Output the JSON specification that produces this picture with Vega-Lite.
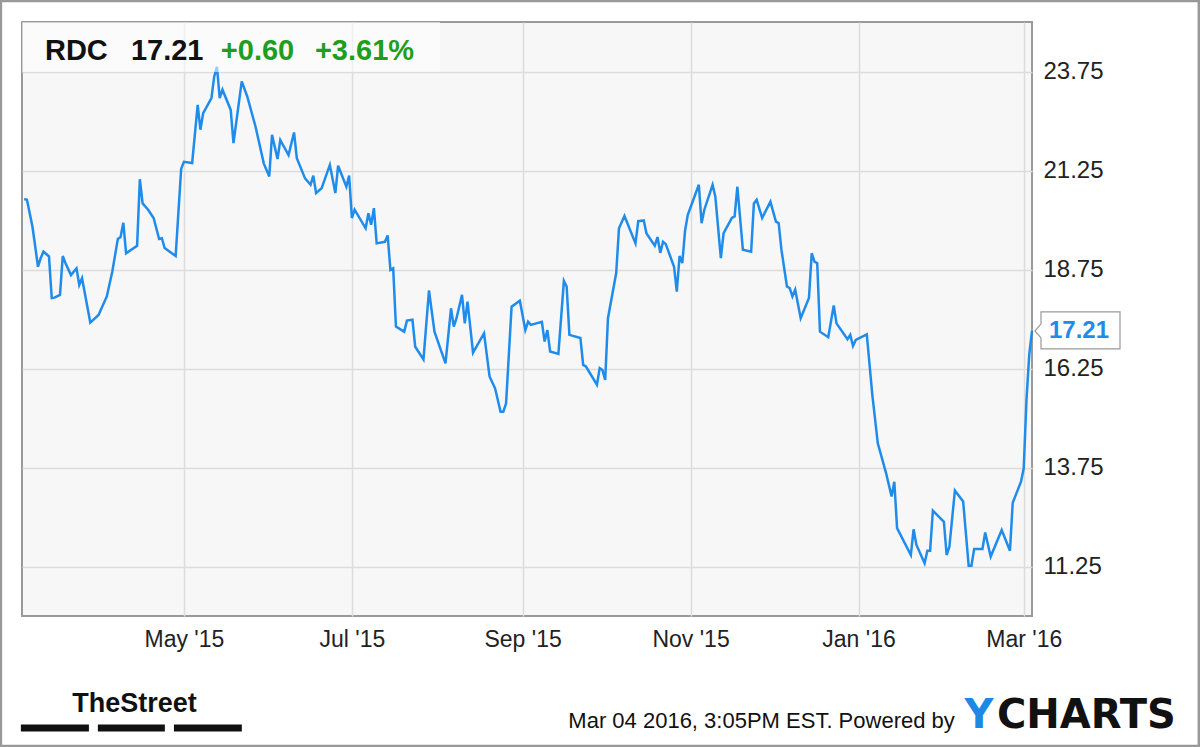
{
  "$schema": "https://vega.github.io/schema/vega-lite/v6.json",
  "width": 1010,
  "height": 594,
  "autosize": {"type": "none"},
  "padding": {"left": 22, "top": 22, "right": 168, "bottom": 131},
  "background": "white",
  "config": {
    "view": {"fill": "#f7f7f7", "stroke": "#999999", "strokeWidth": 2},
    "font": "Liberation Sans"
  },
  "datasets": {
    "prices": [
      {"date": "2015-03-04", "price": 20.54},
      {"date": "2015-03-05", "price": 20.52},
      {"date": "2015-03-07", "price": 19.84},
      {"date": "2015-03-08", "price": 19.34},
      {"date": "2015-03-09", "price": 18.83},
      {"date": "2015-03-10", "price": 19.05},
      {"date": "2015-03-11", "price": 19.21},
      {"date": "2015-03-13", "price": 19.09},
      {"date": "2015-03-14", "price": 18.04},
      {"date": "2015-03-15", "price": 18.05},
      {"date": "2015-03-17", "price": 18.12},
      {"date": "2015-03-18", "price": 19.10},
      {"date": "2015-03-19", "price": 18.92},
      {"date": "2015-03-21", "price": 18.62},
      {"date": "2015-03-23", "price": 18.79},
      {"date": "2015-03-24", "price": 18.37},
      {"date": "2015-03-25", "price": 18.54},
      {"date": "2015-03-28", "price": 17.42},
      {"date": "2015-03-31", "price": 17.61},
      {"date": "2015-04-03", "price": 18.08},
      {"date": "2015-04-05", "price": 18.71},
      {"date": "2015-04-07", "price": 19.53},
      {"date": "2015-04-08", "price": 19.58},
      {"date": "2015-04-09", "price": 19.94},
      {"date": "2015-04-10", "price": 19.17},
      {"date": "2015-04-14", "price": 19.36},
      {"date": "2015-04-15", "price": 21.04},
      {"date": "2015-04-16", "price": 20.43},
      {"date": "2015-04-18", "price": 20.27},
      {"date": "2015-04-20", "price": 20.06},
      {"date": "2015-04-22", "price": 19.53},
      {"date": "2015-04-23", "price": 19.55},
      {"date": "2015-04-24", "price": 19.30},
      {"date": "2015-04-28", "price": 19.10},
      {"date": "2015-04-30", "price": 21.30},
      {"date": "2015-05-01", "price": 21.48},
      {"date": "2015-05-04", "price": 21.45},
      {"date": "2015-05-06", "price": 22.92},
      {"date": "2015-05-07", "price": 22.29},
      {"date": "2015-05-08", "price": 22.71},
      {"date": "2015-05-11", "price": 23.09},
      {"date": "2015-05-12", "price": 23.63},
      {"date": "2015-05-13", "price": 23.88},
      {"date": "2015-05-14", "price": 23.09},
      {"date": "2015-05-15", "price": 23.30},
      {"date": "2015-05-18", "price": 22.79},
      {"date": "2015-05-19", "price": 21.95},
      {"date": "2015-05-22", "price": 23.51},
      {"date": "2015-05-24", "price": 23.13},
      {"date": "2015-05-27", "price": 22.37},
      {"date": "2015-05-30", "price": 21.44},
      {"date": "2015-06-01", "price": 21.11},
      {"date": "2015-06-02", "price": 22.16},
      {"date": "2015-06-04", "price": 21.55},
      {"date": "2015-06-05", "price": 22.03},
      {"date": "2015-06-08", "price": 21.65},
      {"date": "2015-06-10", "price": 22.22},
      {"date": "2015-06-11", "price": 21.57},
      {"date": "2015-06-14", "price": 21.06},
      {"date": "2015-06-16", "price": 20.90},
      {"date": "2015-06-17", "price": 21.13},
      {"date": "2015-06-18", "price": 20.69},
      {"date": "2015-06-20", "price": 20.81},
      {"date": "2015-06-23", "price": 21.40},
      {"date": "2015-06-25", "price": 20.69},
      {"date": "2015-06-26", "price": 21.38},
      {"date": "2015-06-29", "price": 20.85},
      {"date": "2015-06-30", "price": 21.13},
      {"date": "2015-07-01", "price": 20.06},
      {"date": "2015-07-02", "price": 20.27},
      {"date": "2015-07-06", "price": 19.80},
      {"date": "2015-07-07", "price": 20.18},
      {"date": "2015-07-08", "price": 19.89},
      {"date": "2015-07-09", "price": 20.31},
      {"date": "2015-07-10", "price": 19.42},
      {"date": "2015-07-13", "price": 19.46},
      {"date": "2015-07-14", "price": 19.62},
      {"date": "2015-07-15", "price": 18.75},
      {"date": "2015-07-16", "price": 18.79},
      {"date": "2015-07-17", "price": 17.32},
      {"date": "2015-07-20", "price": 17.19},
      {"date": "2015-07-21", "price": 17.47},
      {"date": "2015-07-23", "price": 17.49},
      {"date": "2015-07-24", "price": 16.81},
      {"date": "2015-07-27", "price": 16.49},
      {"date": "2015-07-29", "price": 18.23},
      {"date": "2015-07-31", "price": 17.19},
      {"date": "2015-08-04", "price": 16.39},
      {"date": "2015-08-06", "price": 17.78},
      {"date": "2015-08-07", "price": 17.32},
      {"date": "2015-08-08", "price": 17.53},
      {"date": "2015-08-10", "price": 18.12},
      {"date": "2015-08-11", "price": 17.40},
      {"date": "2015-08-12", "price": 17.95},
      {"date": "2015-08-14", "price": 16.66},
      {"date": "2015-08-18", "price": 17.15},
      {"date": "2015-08-20", "price": 16.06},
      {"date": "2015-08-22", "price": 15.76},
      {"date": "2015-08-24", "price": 15.17},
      {"date": "2015-08-25", "price": 15.17},
      {"date": "2015-08-26", "price": 15.38},
      {"date": "2015-08-28", "price": 17.82},
      {"date": "2015-08-31", "price": 17.97},
      {"date": "2015-09-02", "price": 17.23},
      {"date": "2015-09-03", "price": 17.44},
      {"date": "2015-09-04", "price": 17.36},
      {"date": "2015-09-08", "price": 17.44},
      {"date": "2015-09-09", "price": 16.94},
      {"date": "2015-09-10", "price": 17.23},
      {"date": "2015-09-11", "price": 16.69},
      {"date": "2015-09-14", "price": 16.63},
      {"date": "2015-09-16", "price": 18.47},
      {"date": "2015-09-17", "price": 18.33},
      {"date": "2015-09-18", "price": 17.11},
      {"date": "2015-09-22", "price": 17.03},
      {"date": "2015-09-23", "price": 16.35},
      {"date": "2015-09-24", "price": 16.31},
      {"date": "2015-09-28", "price": 15.85},
      {"date": "2015-09-29", "price": 16.27},
      {"date": "2015-09-30", "price": 16.22},
      {"date": "2015-10-01", "price": 15.97},
      {"date": "2015-10-02", "price": 17.53},
      {"date": "2015-10-05", "price": 18.67},
      {"date": "2015-10-06", "price": 19.80},
      {"date": "2015-10-08", "price": 20.11},
      {"date": "2015-10-12", "price": 19.42},
      {"date": "2015-10-13", "price": 19.98},
      {"date": "2015-10-15", "price": 20.00},
      {"date": "2015-10-16", "price": 19.67},
      {"date": "2015-10-19", "price": 19.36},
      {"date": "2015-10-20", "price": 19.58},
      {"date": "2015-10-21", "price": 19.18},
      {"date": "2015-10-22", "price": 19.46},
      {"date": "2015-10-23", "price": 19.40},
      {"date": "2015-10-26", "price": 18.83},
      {"date": "2015-10-27", "price": 18.20},
      {"date": "2015-10-28", "price": 19.10},
      {"date": "2015-10-29", "price": 18.92},
      {"date": "2015-10-30", "price": 19.74},
      {"date": "2015-10-31", "price": 20.14},
      {"date": "2015-11-04", "price": 20.90},
      {"date": "2015-11-05", "price": 19.93},
      {"date": "2015-11-06", "price": 20.27},
      {"date": "2015-11-09", "price": 20.90},
      {"date": "2015-11-10", "price": 20.60},
      {"date": "2015-11-12", "price": 19.05},
      {"date": "2015-11-13", "price": 19.68},
      {"date": "2015-11-16", "price": 20.06},
      {"date": "2015-11-17", "price": 20.10},
      {"date": "2015-11-18", "price": 20.85},
      {"date": "2015-11-20", "price": 19.26},
      {"date": "2015-11-23", "price": 19.21},
      {"date": "2015-11-24", "price": 20.43},
      {"date": "2015-11-25", "price": 20.52},
      {"date": "2015-11-27", "price": 20.06},
      {"date": "2015-11-30", "price": 20.47},
      {"date": "2015-12-02", "price": 19.97},
      {"date": "2015-12-03", "price": 19.93},
      {"date": "2015-12-04", "price": 19.26},
      {"date": "2015-12-06", "price": 18.33},
      {"date": "2015-12-07", "price": 18.29},
      {"date": "2015-12-08", "price": 18.08},
      {"date": "2015-12-09", "price": 18.25},
      {"date": "2015-12-11", "price": 17.53},
      {"date": "2015-12-14", "price": 18.04},
      {"date": "2015-12-15", "price": 19.17},
      {"date": "2015-12-16", "price": 18.96},
      {"date": "2015-12-17", "price": 18.92},
      {"date": "2015-12-18", "price": 17.19},
      {"date": "2015-12-21", "price": 17.05},
      {"date": "2015-12-23", "price": 17.85},
      {"date": "2015-12-24", "price": 17.40},
      {"date": "2015-12-28", "price": 17.00},
      {"date": "2015-12-29", "price": 17.11},
      {"date": "2015-12-30", "price": 16.83},
      {"date": "2015-12-31", "price": 16.98},
      {"date": "2016-01-04", "price": 17.12},
      {"date": "2016-01-06", "price": 15.60},
      {"date": "2016-01-08", "price": 14.37},
      {"date": "2016-01-11", "price": 13.62},
      {"date": "2016-01-13", "price": 13.03},
      {"date": "2016-01-14", "price": 13.40},
      {"date": "2016-01-15", "price": 12.23},
      {"date": "2016-01-20", "price": 11.55},
      {"date": "2016-01-21", "price": 12.20},
      {"date": "2016-01-22", "price": 11.81},
      {"date": "2016-01-25", "price": 11.34},
      {"date": "2016-01-26", "price": 11.66},
      {"date": "2016-01-27", "price": 11.66},
      {"date": "2016-01-28", "price": 12.67},
      {"date": "2016-02-01", "price": 12.39},
      {"date": "2016-02-02", "price": 11.55},
      {"date": "2016-02-03", "price": 11.76},
      {"date": "2016-02-05", "price": 13.18},
      {"date": "2016-02-08", "price": 12.90},
      {"date": "2016-02-10", "price": 11.28},
      {"date": "2016-02-11", "price": 11.28},
      {"date": "2016-02-12", "price": 11.70},
      {"date": "2016-02-15", "price": 11.70},
      {"date": "2016-02-16", "price": 12.12},
      {"date": "2016-02-18", "price": 11.51},
      {"date": "2016-02-22", "price": 12.18},
      {"date": "2016-02-25", "price": 11.66},
      {"date": "2016-02-26", "price": 12.87},
      {"date": "2016-02-29", "price": 13.40},
      {"date": "2016-03-01", "price": 13.74},
      {"date": "2016-03-02", "price": 15.47},
      {"date": "2016-03-03", "price": 16.61},
      {"date": "2016-03-04", "price": 17.21}
    ]
  },
  "layer": [
    {
      "data": {"name": "prices"},
      "mark": {"type": "line", "color": "#1f8ceb", "strokeWidth": 2.5},
      "encoding": {
        "x": {
          "field": "date",
          "type": "temporal",
          "title": null,
          "scale": {
            "type": "utc",
            "domain": [
              {"year": 2015, "month": 3, "date": 3, "hours": 4, "minutes": 48, "utc": true},
              {"year": 2016, "month": 3, "date": 4, "utc": true}
            ]
          },
          "axis": {
            "title": null,
            "values": [
              {"year": 2015, "month": 5, "date": 1, "utc": true},
              {"year": 2015, "month": 7, "date": 1, "utc": true},
              {"year": 2015, "month": 9, "date": 1, "utc": true},
              {"year": 2015, "month": 11, "date": 1, "utc": true},
              {"year": 2016, "month": 1, "date": 1, "utc": true},
              {"year": 2016, "month": 3, "date": 1, "utc": true}
            ],
            "labelExpr": "utcFormat(datum.value, \"%b '%y\")",
            "domain": false,
            "ticks": false,
            "tickSize": 0,
            "labelFont": "Liberation Sans",
            "labelFontSize": 23,
            "labelColor": "#222222",
            "labelPadding": 12,
            "grid": true,
            "gridColor": "#dcdcdc",
            "gridWidth": 1.5
          }
        },
        "y": {
          "field": "price",
          "type": "quantitative",
          "title": null,
          "scale": {"domain": [10.01, 25.01], "nice": false, "zero": false},
          "axis": {
            "orient": "right",
            "title": null,
            "values": [11.25, 13.75, 16.25, 18.75, 21.25, 23.75],
            "format": ".2f",
            "domain": false,
            "ticks": false,
            "tickSize": 0,
            "labelFont": "Liberation Sans",
            "labelFontSize": 24,
            "labelColor": "#222222",
            "labelPadding": 11,
            "grid": true,
            "gridColor": "#dcdcdc",
            "gridWidth": 1.5
          }
        }
      }
    },
    {
      "data": {"values": [{}]},
      "mark": {"type": "rect", "fill": "white", "opacity": 0.55},
      "encoding": {
        "x": {"datum": {"year": 2015, "month": 3, "date": 3, "hours": 4, "minutes": 48, "utc": true}, "type": "temporal", "title": null},
        "x2": {"datum": {"year": 2015, "month": 8, "date": 1, "hours": 23, "utc": true}},
        "y": {"datum": 25.01, "type": "quantitative", "title": null},
        "y2": {"datum": 23.75}
      }
    },
    {
      "data": {"values": [{}]},
      "mark": {"type": "rect", "fill": null, "fillOpacity": 0, "stroke": "#999999", "strokeWidth": 2.5},
      "encoding": {
        "x": {"datum": {"year": 2015, "month": 2, "date": 23, "hours": 13, "utc": true}, "type": "temporal", "title": null},
        "x2": {"datum": {"year": 2016, "month": 5, "date": 3, "hours": 14, "utc": true}},
        "y": {"datum": 25.54, "type": "quantitative", "title": null},
        "y2": {"datum": 6.73}
      }
    },
    {
      "data": {"values": [{}]},
      "mark": {"type": "text", "text": "RDC", "font": "Liberation Sans", "fontWeight": "bold", "fontSize": 29, "color": "#111111", "align": "left", "baseline": "alphabetic"},
      "encoding": {
        "x": {"datum": {"year": 2015, "month": 3, "date": 11, "hours": 13, "utc": true}, "type": "temporal", "title": null},
        "y": {"datum": 24.05, "type": "quantitative", "title": null}
      }
    },
    {
      "data": {"values": [{}]},
      "mark": {"type": "text", "text": "17.21", "font": "Liberation Sans", "fontWeight": "bold", "fontSize": 29, "color": "#111111", "align": "left", "baseline": "alphabetic"},
      "encoding": {
        "x": {"datum": {"year": 2015, "month": 4, "date": 11, "hours": 18, "utc": true}, "type": "temporal", "title": null},
        "y": {"datum": 24.05, "type": "quantitative", "title": null}
      }
    },
    {
      "data": {"values": [{}]},
      "mark": {"type": "text", "text": "+0.60", "font": "Liberation Sans", "fontWeight": "bold", "fontSize": 29, "color": "#1e9e1e", "align": "left", "baseline": "alphabetic"},
      "encoding": {
        "x": {"datum": {"year": 2015, "month": 5, "date": 14, "hours": 10, "utc": true}, "type": "temporal", "title": null},
        "y": {"datum": 24.05, "type": "quantitative", "title": null}
      }
    },
    {
      "data": {"values": [{}]},
      "mark": {"type": "text", "text": "+3.61%", "font": "Liberation Sans", "fontWeight": "bold", "fontSize": 29, "color": "#1e9e1e", "align": "left", "baseline": "alphabetic"},
      "encoding": {
        "x": {"datum": {"year": 2015, "month": 6, "date": 17, "hours": 14, "utc": true}, "type": "temporal", "title": null},
        "y": {"datum": 24.05, "type": "quantitative", "title": null}
      }
    },
    {
      "data": {"name": "prices"},
      "transform": [{"filter": "utcyear(datum.date) == 2016 && utcmonth(datum.date) == 2 && utcdate(datum.date) == 4"}],
      "mark": {"type": "point", "shape": "M0.3,0L0.9,-0.7L0.9,-1.9L8.8,-1.9L8.8,1.8L0.9,1.8L0.9,0.7Z", "size": 400, "filled": true, "fill": "white", "stroke": "#999999", "strokeWidth": 1.2, "opacity": 1},
      "encoding": {
        "x": {"field": "date", "type": "temporal", "title": null},
        "y": {"field": "price", "type": "quantitative", "title": null}
      }
    },
    {
      "data": {"name": "prices"},
      "transform": [{"filter": "utcyear(datum.date) == 2016 && utcmonth(datum.date) == 2 && utcdate(datum.date) == 4"}],
      "mark": {"type": "text", "text": "17.21", "font": "Liberation Sans", "fontWeight": "bold", "fontSize": 24, "color": "#1f8ceb", "align": "center", "baseline": "middle", "dx": 47},
      "encoding": {
        "x": {"field": "date", "type": "temporal", "title": null},
        "y": {"field": "price", "type": "quantitative", "title": null}
      }
    },
    {
      "data": {"values": [{}]},
      "mark": {"type": "text", "text": "TheStreet", "font": "Liberation Sans", "fontWeight": "bold", "fontSize": 27, "color": "#111111", "align": "left", "baseline": "alphabetic"},
      "encoding": {
        "x": {"datum": {"year": 2015, "month": 3, "date": 21, "hours": 10, "utc": true}, "type": "temporal", "title": null},
        "y": {"datum": 7.59, "type": "quantitative", "title": null}
      }
    },
    {
      "data": {"values": [{}]},
      "mark": {"type": "rule", "color": "#111111", "strokeWidth": 7, "strokeCap": "butt"},
      "encoding": {
        "x": {"datum": {"year": 2015, "month": 3, "date": 2, "hours": 19, "utc": true}, "type": "temporal", "title": null},
        "x2": {"datum": {"year": 2015, "month": 3, "date": 27, "hours": 12, "utc": true}},
        "y": {"datum": 7.18, "type": "quantitative", "title": null}
      }
    },
    {
      "data": {"values": [{}]},
      "mark": {"type": "rule", "color": "#111111", "strokeWidth": 7, "strokeCap": "butt"},
      "encoding": {
        "x": {"datum": {"year": 2015, "month": 3, "date": 30, "hours": 18, "utc": true}, "type": "temporal", "title": null},
        "x2": {"datum": {"year": 2015, "month": 4, "date": 24, "hours": 2, "utc": true}},
        "y": {"datum": 7.18, "type": "quantitative", "title": null}
      }
    },
    {
      "data": {"values": [{}]},
      "mark": {"type": "rule", "color": "#111111", "strokeWidth": 7, "strokeCap": "butt"},
      "encoding": {
        "x": {"datum": {"year": 2015, "month": 4, "date": 27, "hours": 9, "utc": true}, "type": "temporal", "title": null},
        "x2": {"datum": {"year": 2015, "month": 5, "date": 22, "hours": 1, "utc": true}},
        "y": {"datum": 7.18, "type": "quantitative", "title": null}
      }
    },
    {
      "data": {"values": [{}]},
      "mark": {"type": "text", "text": "Mar 04 2016, 3:05PM EST.  Powered by", "font": "Liberation Sans", "fontSize": 22, "color": "#111111", "align": "right", "baseline": "alphabetic"},
      "encoding": {
        "x": {"datum": {"year": 2016, "month": 2, "date": 4, "hours": 23, "utc": true}, "type": "temporal", "title": null},
        "y": {"datum": 7.18, "type": "quantitative", "title": null}
      }
    },
    {
      "data": {"values": [{}]},
      "mark": {"type": "text", "text": "Y", "font": "DejaVu Sans", "fontWeight": "bold", "fontSize": 40, "color": "#1e88e5", "align": "left", "baseline": "alphabetic"},
      "encoding": {
        "x": {"datum": {"year": 2016, "month": 2, "date": 8, "hours": 12, "utc": true}, "type": "temporal", "title": null},
        "y": {"datum": 7.18, "type": "quantitative", "title": null}
      }
    },
    {
      "data": {"values": [{}]},
      "mark": {"type": "text", "text": "CHARTS", "font": "DejaVu Sans", "fontWeight": "bold", "fontSize": 40, "color": "#111111", "align": "right", "baseline": "alphabetic"},
      "encoding": {
        "x": {"datum": {"year": 2016, "month": 4, "date": 25, "hours": 6, "utc": true}, "type": "temporal", "title": null},
        "y": {"datum": 7.18, "type": "quantitative", "title": null}
      }
    }
  ]
}
